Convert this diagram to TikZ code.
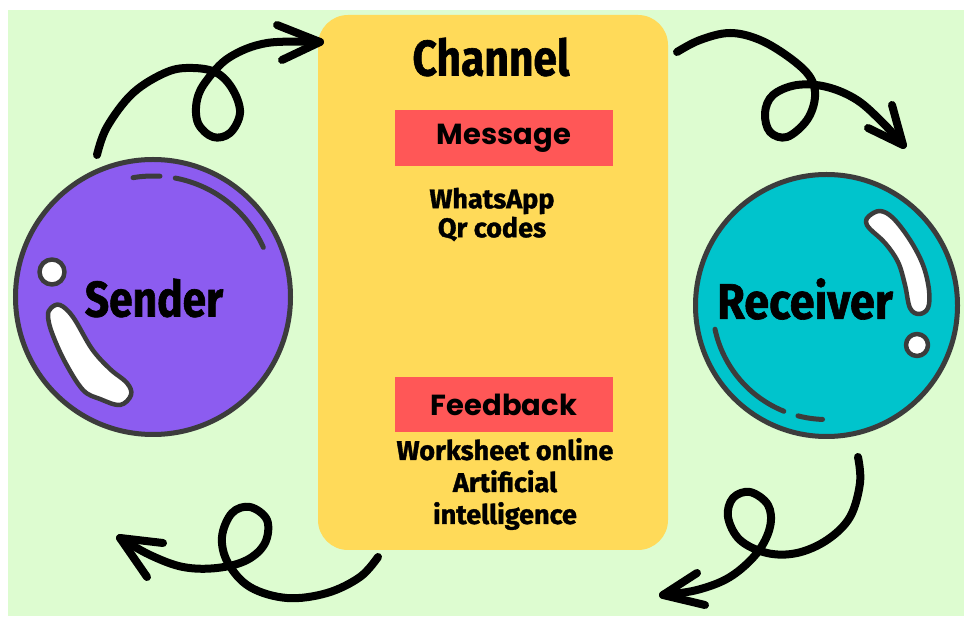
\documentclass[tikz,border=0pt]{standalone}
\usepackage{fontspec}
\usepackage{graphicx}
\usetikzlibrary{calc}
\setmainfont{Fira Sans}
\newfontfamily\handfont{Fira Sans}[BoldFeatures={FakeBold=1.3}]
\newfontfamily\boxfont{Poppins}
\definecolor{bggreen}{RGB}{221,252,208}
\definecolor{chyellow}{RGB}{255,218,89}
\definecolor{tagred}{RGB}{255,87,87}
\definecolor{sendpurple}{RGB}{140,92,240}
\definecolor{recteal}{RGB}{0,196,204}
\definecolor{outl}{RGB}{60,60,60}
\tikzset{
  brush/.style={line width=8pt, line cap=round, line join=round, black},
  bubble/.style={circle, draw=outl, line width=5pt, inner sep=0pt},
  shine/.style={draw=outl, line width=4.5pt, fill=white, line join=round},
  gloss/.style={draw=outl, line width=5pt, line cap=round},
  tag/.style={fill=tagred, minimum width=218pt, minimum height=56pt, inner sep=0pt,
    font=\boxfont\bfseries\fontsize{29}{34}\selectfont},
  hand/.style={font=\handfont\bfseries\fontsize{27}{29}\selectfont, align=center, inner sep=0pt},
  big/.style={font=\handfont\bfseries\fontsize{50}{56}\selectfont, inner sep=0pt},
}
\begin{document}
\begin{tikzpicture}[x=1pt,y=1pt]
\useasboundingbox (0,0) rectangle (964,616);
\fill[white] (0,0) rectangle (964,616);
\fill[bggreen] (8,0) rectangle (964,606);

% channel box
\fill[chyellow, rounded corners=30pt] (318,66) rectangle (668,601);
\node[big] (channel) at (491,559) {\scalebox{0.85}[1]{Channel}};
\node[tag] (message) at (504,478) {Message};
\node[hand] (msgtext) at (492,401.5) {WhatsApp\\Qr codes};
\node[tag, minimum height=55pt] (feedback) at (504,211.5) {Feedback};
\node[hand, font=\handfont\bfseries\fontsize{27}{32}\selectfont] (fbtext) at (505,132) {Worksheet online\\Artificial\\intelligence};

% sender
\node[bubble, fill=sendpurple, minimum size=275pt] (sender) at (153,319) {};
\draw[shine] plot[smooth cycle, tension=0.6] coordinates {(51,308) (60,311) (73,299) (92,267) (110,247) (127,233) (131,221) (120,211) (100,217) (83,226) (65,254) (52,283) (48,300)};
\draw[shine] (52,344) circle[radius=12.5pt];
\draw[gloss] ($(sender.center)+(99.5:121)$) arc[start angle=99.5, end angle=86.7, radius=121pt];
\draw[gloss] ($(sender.center)+(79.4:121)$) arc[start angle=79.4, end angle=24.2, radius=121pt];
\node[big] (senderlbl) at (154,318) {\scalebox{0.85}[1]{Sender}};

% receiver
\node[bubble, fill=recteal, minimum size=262pt] (receiver) at (826.5,310.5) {};
\draw[shine] plot[smooth cycle, tension=0.6] coordinates {(869,400) (880,405) (893,398) (910,376) (923,351) (929,326) (928,308) (919,302) (910,308) (905,331) (898,354) (885,373) (870,387) (866,394)};
\draw[shine] (917,271) circle[radius=11pt];
\draw[gloss] ($(receiver.center)+(192:114)$) arc[start angle=192, end angle=248, radius=114pt];
\draw[gloss] ($(receiver.center)+(255.5:114)$) arc[start angle=255.5, end angle=268, radius=114pt];
\node[big] (receiverlbl) at (805,317) {\scalebox{0.9}[1]{Receiver}};

% arrows
\coordinate (a1s) at (97,461);  \coordinate (a1e) at (320,574);
\coordinate (a2s) at (677,564); \coordinate (a2e) at (903,471);
\coordinate (a3s) at (858,159); \coordinate (a3e) at (663,21);
\coordinate (a4s) at (378,59);  \coordinate (a4e) at (120,78);

\draw[brush] plot[smooth, tension=0.6] coordinates {(a1s) (107,489) (133,523) (167,544) (193,548) (217,543) (233,526) (240,503) (230,483) (213,479) (198,493) (197,516) (207,536) (230,559) (267,573) (a1e)};
\draw[brush] (277,591) -- (a1e) -- (282,556);

\draw[brush] plot[smooth, tension=0.6] coordinates {(a2s) (700,576) (730,583) (760,576) (790,558) (810,539) (815,519) (807,496) (787,479) (770,484) (765,503) (773,521) (797,531) (827,529) (857,516) (883,493) (a2e)};
\draw[brush] (892,511) -- (a2e) -- (868,488);

\draw[brush] plot[smooth, tension=0.6] coordinates {(a3s) (860,133) (850,99) (827,76) (797,63) (767,63) (740,76) (728,99) (733,118) (750,124) (768,111) (770,89) (757,63) (730,39) (697,26) (a3e)};
\draw[brush] (697,43) -- (a3e) -- (705,11);

\draw[brush] plot[smooth, tension=0.6] coordinates {(a4s) (360,39) (327,23) (287,18) (250,29) (228,53) (222,79) (232,103) (250,109) (267,96) (265,73) (247,56) (217,48) (183,49) (150,61) (a4e)};
\draw[brush] (163,73) -- (a4e) -- (147,39);
\end{tikzpicture}
\end{document}
